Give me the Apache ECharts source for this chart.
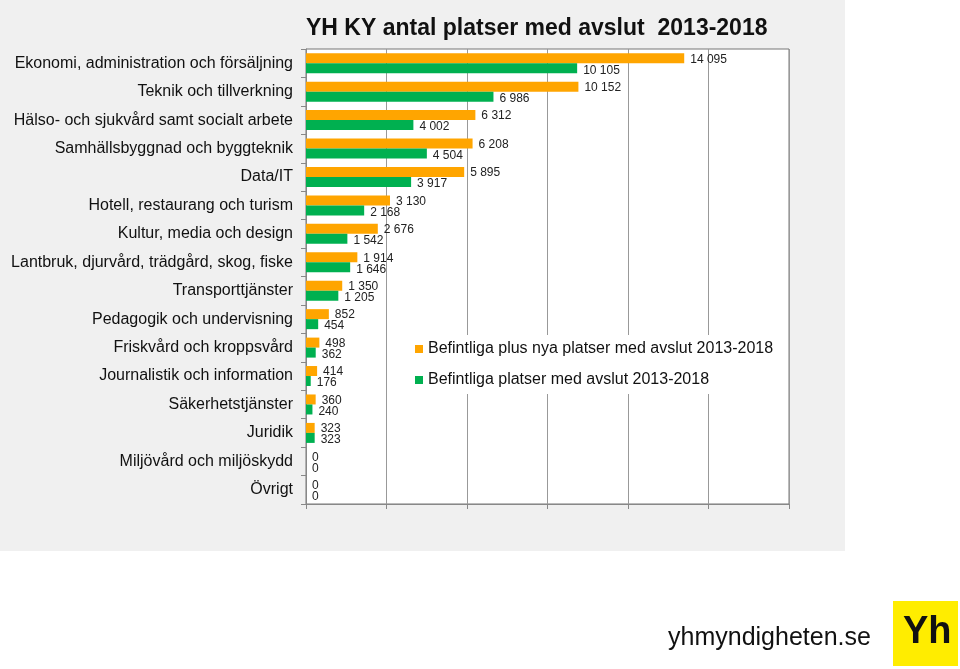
<!DOCTYPE html>
<html>
<head>
<meta charset="utf-8">
<script src="https://cdn.jsdelivr.net/npm/echarts@6/dist/echarts.min.js"></script>
<style>
  html, body { margin: 0; padding: 0; background: #fff; }
  #chart { width: 960px; height: 669px; }
</style>
</head>
<body>
<div id="chart"></div>
<script>
// kategorier, uppifrån och ned
var categories = [
  'Ekonomi, administration och försäljning',
  'Teknik och tillverkning',
  'Hälso- och sjukvård samt socialt arbete',
  'Samhällsbyggnad och byggteknik',
  'Data/IT',
  'Hotell, restaurang och turism',
  'Kultur, media och design',
  'Lantbruk, djurvård, trädgård, skog, fiske',
  'Transporttjänster',
  'Pedagogik och undervisning',
  'Friskvård och kroppsvård',
  'Journalistik och information',
  'Säkerhetstjänster',
  'Juridik',
  'Miljövård och miljöskydd',
  'Övrigt'
]
var plusNya = [14095, 10152, 6312, 6208, 5895, 3130, 2676, 1914, 1350, 852, 498, 414, 360, 323, 0, 0]
var befintliga = [10105, 6986, 4002, 4504, 3917, 2168, 1542, 1646, 1205, 454, 362, 176, 240, 323, 0, 0]
var seriesNames = [
  'Befintliga plus nya platser med avslut 2013-2018',
  'Befintliga platser med avslut 2013-2018'
]

var font = 'Liberation Sans, Arial, sans-serif'

function fmt(p) {
  return String(p.value).replace(/\B(?=(\d{3})+(?!\d))/g, ' ')
}

var chart = echarts.init(document.getElementById('chart'))
chart.setOption({
  backgroundColor: '#fff',
  animation: false,
  textStyle: { fontFamily: font },
  graphic: [
    { type: 'rect', z: -10, shape: { x: 0, y: 0, width: 845, height: 551 }, style: { fill: '#f0f0f0' } },
    { type: 'text', left: 668, top: 626, style: { text: 'yhmyndigheten.se', font: '25px ' + font, fill: '#111' } },
    { type: 'rect', shape: { x: 893, y: 601, width: 65, height: 65 }, style: { fill: '#ffed00' } },
    { type: 'text', left: 903, top: 614, style: { text: 'Yh', font: 'bold 38px ' + font, fill: '#111' } }
  ],
  title: {
    text: 'YH KY antal platser med avslut  2013-2018',
    left: 306,
    top: 17,
    padding: 0,
    textStyle: { fontSize: 23, fontWeight: 'bold', color: '#111', fontFamily: font }
  },
  legend: {
    orient: 'vertical',
    left: 405,
    top: 335,
    padding: [6, 10, 6, 10],
    backgroundColor: '#fff',
    itemWidth: 8,
    itemHeight: 8,
    itemGap: 15,
    icon: 'rect',
    textStyle: { fontSize: 16, color: '#111', fontFamily: font },
    data: seriesNames
  },
  grid: {
    left: 306,
    top: 49,
    right: 171,
    bottom: 165,
    show: true,
    backgroundColor: '#fff',
    borderColor: '#777',
    borderWidth: 1
  },
  xAxis: {
    type: 'value',
    min: 0,
    max: 18000,
    interval: 3000,
    axisLine: { show: true, lineStyle: { color: '#888' } },
    axisTick: { show: true, length: 5, lineStyle: { color: '#888' } },
    axisLabel: { show: false },
    splitLine: { show: true, lineStyle: { color: '#999', width: 1 } }
  },
  yAxis: {
    type: 'category',
    inverse: true,
    data: categories,
    axisLine: { show: true, lineStyle: { color: '#888' } },
    axisTick: { show: true, length: 5, lineStyle: { color: '#888' } },
    axisLabel: { fontSize: 16, color: '#111', margin: 13, fontFamily: font }
  },
  series: [{
    name: seriesNames[0],
    type: 'bar',
    barWidth: 10,
    barGap: '0%',
    itemStyle: { color: '#ffa500' },
    label: { show: true, position: 'right', distance: 6, offset: [0, 1], fontSize: 12, color: '#222', formatter: fmt },
    data: plusNya
  }, {
    name: seriesNames[1],
    type: 'bar',
    barWidth: 10,
    itemStyle: { color: '#00b050' },
    label: { show: true, position: 'right', distance: 6, offset: [0, 2], fontSize: 12, color: '#222', formatter: fmt },
    data: befintliga
  }]
})
</script>
</body>
</html>
